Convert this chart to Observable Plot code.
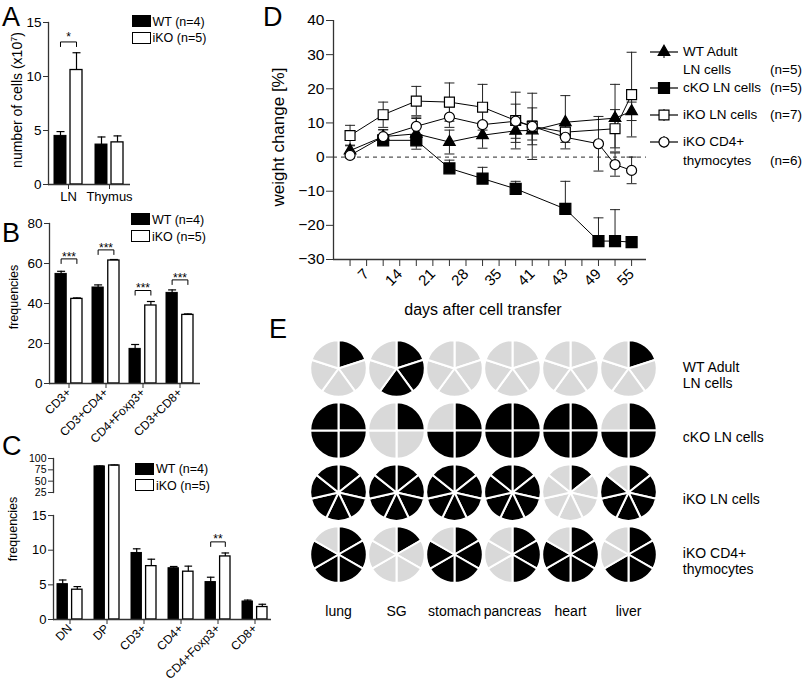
<!DOCTYPE html>
<html><head><meta charset="utf-8">
<script src="https://cdn.jsdelivr.net/npm/d3@7"></script>
<script src="https://cdn.jsdelivr.net/npm/@observablehq/plot@0.6"></script>
<style>
body{margin:0;background:#fff;}
#root{position:relative;width:807px;height:687px;overflow:hidden;font-family:"Liberation Sans",Arial,sans-serif;color:#000;}
.abs{position:absolute;}
</style></head><body><div id="root"></div>
<script>
// ---------- DATA ----------
const legendLabels = ["WT (n=4)", "iKO (n=5)"];

// Panel A
const aCategories = ["LN", "Thymus"];
const aWT = [4.5, 3.7];
const aWTerr = [0.4, 0.7];
const aKO = [10.6, 3.9];
const aKOerr = [1.6, 0.6];
const aYTicks = [0, 5, 10, 15];
const aSigCats = ["LN"];
const aSigY = [13.2];
const aSigLabels = ["*"];

// Panel B
const bCategories = ["CD3+", "CD3+CD4+", "CD4+Foxp3+", "CD3+CD8+"];
const bWT = [54.8, 48, 17.3, 45.3];
const bWTerr = [1.3, 1.3, 2.2, 1.5];
const bKO = [42.3, 61.5, 39, 34.3];
const bKOerr = [0.5, 0.5, 2.0, 0.5];
const bYTicks = [0, 20, 40, 60, 80];
const bSigCats = ["CD3+", "CD3+CD4+", "CD4+Foxp3+", "CD3+CD8+"];
const bSigY = [62.3, 66.8, 46.5, 51.8];
const bSigLabels = ["***", "***", "***", "***"];

// Panel C (broken axis: lower 0–15, upper 25–100)
const cCategories = ["DN", "DP", "CD3+", "CD4+", "CD4+Foxp3+", "CD8+"];
const cWT = [5.1, 82.5, 9.6, 7.4, 5.4, 2.6];
const cWTerr = [0.6, 1, 0.6, 0.25, 0.7, 0.2];
const cKO = [4.3, 84.6, 7.7, 6.9, 9.1, 1.8];
const cKOerr = [0.45, 1, 1.0, 0.8, 0.5, 0.4];
const cLowerTicks = [0, 5, 10, 15];
const cUpperTicks = [25, 50, 75, 100];
const cSigCats = ["CD4+Foxp3+"];
const cSigY = [11.2];
const cSigLabels = ["**"];

// Panel D (x = slot on the categorical day axis)
const dSeriesNames = ["WT Adult LN cells", "cKO LN cells", "iKO LN cells", "iKO CD4+ thymocytes"];
const dSlots = [0, 2, 4, 6, 8, 10, 11, 13, 15, 16, 17];
const dWT     = [1.9, 6.0, 6.8, 4.4, 6.4, 7.7, 7.8, 10.2, null, 11.4, 13.4];
const dWTerr  = [1.6, 2.0, 4.5, 3.5, 3.8, 3.4, 2.8, 7.8, null, 9.9, 2.7];
const dCKO    = [null, 4.9, 4.9, -3.3, -6.3, -9.3, null, -15.2, -24.6, -24.6, -24.9];
const dCKOerr = [null, 1.2, 1.5, 2.4, 3.3, 2.2, null, 8.1, 6.8, 9.2, 0.4];
const dIKO    = [6.3, 12.4, 16.4, 16.1, 14.6, 10.7, 9.0, 7.3, null, 8.3, 18.3];
const dIKOerr = [3.0, 3.7, 4.3, 5.6, 6.7, 8.3, 9.7, 1.5, null, 5.6, 12.4];
const dTHY    = [0.5, 6.0, 9.0, 11.7, 9.5, 10.5, 9.0, 5.8, 3.9, -2.2, -3.9];
const dTHYerr = [0.8, 2.0, 2.7, 3.0, 4.0, 5.0, 5.4, 1.5, 8.0, 3.4, 3.9];
const dMinorTicks = [0, 1, 2, 3, 4, 5, 6, 7, 8, 9, 10, 11, 12, 13, 14, 15, 16, 17];
const dTickPos = [1, 3, 5, 7, 9, 11, 13, 15, 17];
const dTickLabels = ["7", "14", "21", "28", "35", "41", "43", "49", "55"];
const dYTicks = [-30, -20, -10, 0, 10, 20, 30, 40];
const dLegendN = ["(n=5)", "(n=5)", "(n=7)", "(n=6)"];

// Panel E
const organs = ["lung", "SG", "stomach", "pancreas", "heart", "liver"];
const pieGroups = ["WT Adult\nLN cells", "cKO LN cells", "iKO LN cells", "iKO CD4+\nthymocytes"];
const pieMice = [5, 4, 7, 6];
const pieAffected = [
  [1, 3, 0, 0, 0, 1],
  [4, 1, 3, 4, 4, 3],
  [7, 7, 7, 7, 1, 6],
  [5, 1, 5, 3, 5, 4]
];

// ---------- HELPERS ----------
const AX = "#333";
const FONT = "Liberation Sans, Arial, sans-serif";
const baseStyle = {fontFamily: FONT, background: "transparent", overflow: "visible", color: "#000", maxWidth: "none"};
const root = document.getElementById("root");
function place(el, left, top) {
  const d = document.createElement("div");
  d.className = "abs"; d.style.left = left + "px"; d.style.top = top + "px";
  d.appendChild(el); root.appendChild(d);
}
function text(str, left, top, size, extra = "") {
  const d = document.createElement("div");
  d.className = "abs";
  d.style.cssText = `left:${left}px;top:${top}px;font-size:${size}px;line-height:1;white-space:nowrap;${extra}`;
  d.innerHTML = str; root.appendChild(d); return d;
}
function vlabel(str, cx, cy, size) {
  return text(str, cx, cy, size, "transform:translate(-50%,-50%) rotate(-90deg);");
}
const hLine = (h) => ({draw(ctx) { ctx.moveTo(-h, 0); ctx.lineTo(h, 0); }});
const bracketSym = (h, d) => ({draw(ctx) { ctx.moveTo(-h, d); ctx.lineTo(-h, 0); ctx.lineTo(h, 0); ctx.lineTo(h, d); }});
const wedgeSymbol = (n, i) => ({draw(ctx, size) {
  const r = Math.sqrt(size / Math.PI);
  const a0 = -Math.PI / 2 + i * 2 * Math.PI / n, a1 = a0 + 2 * Math.PI / n;
  ctx.moveTo(0, 0); ctx.arc(0, 0, r, a0, a1); ctx.closePath();
}});

function barPanel(o) {
  const n = o.cats.length;
  const rangeW = o.width - o.mL - o.mR;
  const step = rangeW / (n - o.pi + 2 * o.po);
  const bw = step * (1 - o.pi);
  const bar = (bw - o.gap) / 2;
  const off = (bar + o.gap) / 2;
  const clip = !!o.clip;
  const wt = o.cats.map((cat, i) => ({cat, v: o.wt[i], e: o.wtErr[i]}));
  const ko = o.cats.map((cat, i) => ({cat, v: o.ko[i], e: o.koErr[i]}));
  const sig = (o.sigCats || []).map((cat, i) => ({cat, y: o.sigY[i], label: o.sigLabels[i]}));
  const cap = hLine(Math.min(4, bar * 0.36));
  const marks = [
    Plot.barY(wt, {x: "cat", y1: 0, y2: "v", fill: "black", stroke: "black", strokeWidth: 1, insetRight: bar + o.gap, clip}),
    Plot.barY(ko, {x: "cat", y1: 0, y2: "v", fill: "white", stroke: "black", strokeWidth: 1.3, insetLeft: bar + o.gap, clip}),
    Plot.ruleX(wt, {x: "cat", y1: "v", y2: d => d.v + d.e, dx: -off, stroke: "black", strokeWidth: 1.2, clip}),
    Plot.ruleX(ko, {x: "cat", y1: "v", y2: d => d.v + d.e, dx: off, stroke: "black", strokeWidth: 1.2, clip}),
    Plot.dot(wt, {x: "cat", y: d => d.v + d.e, dx: -off, symbol: cap, fill: "none", stroke: "black", strokeWidth: 1.2, clip}),
    Plot.dot(ko, {x: "cat", y: d => d.v + d.e, dx: off, symbol: cap, fill: "none", stroke: "black", strokeWidth: 1.2, clip}),
    Plot.dot(sig, {x: "cat", y: "y", symbol: bracketSym(off, 5), fill: "none", stroke: "black", strokeWidth: 1}),
    Plot.text(sig, {x: "cat", y: "y", text: "label", dy: o.sigDy, fontSize: 12, lineAnchor: "middle"}),
    ...(o.zeroLine === false ? [] : [Plot.ruleY([0], {stroke: AX, strokeWidth: 1.3})]),
    ...o.yLines,
    Plot.axisY({ticks: o.yTicks, tickSize: 5, tickPadding: 2, fontSize: o.yFont, label: null, stroke: AX}),
    ...(o.showX === false ? [] : [Plot.axisX({tickSize: 5, tickPadding: o.xPad, tickRotate: o.rotate, fontSize: o.xFont, label: null, stroke: AX})])
  ];
  return Plot.plot({
    width: o.width, height: o.height,
    marginLeft: o.mL, marginRight: o.mR, marginTop: o.mT, marginBottom: o.mB,
    x: {domain: o.cats, paddingInner: o.pi, paddingOuter: o.po, align: 0.5, axis: o.showX === false ? null : undefined},
    y: {domain: o.yDomain}, style: baseStyle, marks
  });
}
function barLegend(left, top1, top2) {
  [[top1, "black"], [top2, "white"]].forEach(([t, fill], i) => {
    const sw = document.createElement("div");
    sw.className = "abs";
    sw.style.cssText = `left:${left}px;top:${t}px;width:19px;height:12px;background:${fill};border:1.3px solid #000;box-sizing:border-box;`;
    root.appendChild(sw);
    text(legendLabels[i], left + 21, t + 6.5, 12.5, "transform:translateY(-50%);");
  });
}

// ---------- PANEL A ----------
place(barPanel({
  cats: aCategories, wt: aWT, wtErr: aWTerr, ko: aKO, koErr: aKOerr,
  sigCats: aSigCats, sigY: aSigY, sigLabels: aSigLabels, sigDy: -5,
  width: 240, height: 205, mL: 48, mR: 110, mT: 22, mB: 21,
  pi: 0.317, po: 0.158, gap: 4, yDomain: [0, 15], yTicks: aYTicks,
  yLines: [Plot.frame({anchor: "left", stroke: AX, strokeWidth: 1.3})],
  rotate: 0, xFont: 13, yFont: 13.5, xPad: 2
}), 0, 0);

// ---------- PANEL B ----------
place(barPanel({
  cats: bCategories, wt: bWT, wtErr: bWTerr, ko: bKO, koErr: bKOerr,
  sigCats: bSigCats, sigY: bSigY, sigLabels: bSigLabels, sigDy: -2,
  width: 240, height: 245, mL: 49, mR: 40, mT: 28, mB: 57,
  pi: 0.27, po: 0.175, gap: 4.5, yDomain: [0, 80], yTicks: bYTicks,
  yLines: [Plot.frame({anchor: "left", stroke: AX, strokeWidth: 1.3})],
  rotate: -45, xFont: 12, yFont: 13.5, xPad: 2
}), 0, 195);

// ---------- PANEL C (two stacked plots sharing the x layout) ----------
const cCommon = {
  cats: cCategories, wt: cWT, wtErr: cWTerr, ko: cKO, koErr: cKOerr,
  width: 300, height: 247, mL: 53, mR: 29, pi: 0.32, po: 0.1, gap: 4,
  rotate: -45, xFont: 12, yFont: 13, xPad: 2, clip: true
};
// lower segment: 0..15 drawn at 6.93 px/unit, frame extends through the break
place(barPanel({...cCommon,
  sigCats: cSigCats, sigY: cSigY, sigLabels: cSigLabels, sigDy: -3,
  mT: 52, mB: 68, yDomain: [0, 127 / 6.93], yTicks: cLowerTicks,
  yLines: [Plot.frame({anchor: "left", stroke: AX, strokeWidth: 1.3, insetTop: 23})]
}), 0, 440);
// upper segment: 25..100
place(barPanel({...cCommon,
  mT: 18, mB: 195, yDomain: [25, 100], yTicks: cUpperTicks, yFont: 10.5,
  zeroLine: false, showX: false,
  yLines: [Plot.frame({anchor: "left", stroke: AX, strokeWidth: 1.3})]
}), 0, 440);

// ---------- PANEL D ----------
const dValues = [dWT, dCKO, dIKO, dTHY];
const dErrs = [dWTerr, dCKOerr, dIKOerr, dTHYerr];
const dBoth = [true, false, true, true];
const dRows = dSeriesNames.flatMap((s, si) => dSlots.map((k, i) => ({
  series: s, k, y: dValues[si][i], e: dErrs[si][i], both: dBoth[si]
})).filter(d => d.y != null));
const dStyles = [
  {symbol: "triangle", fill: "black", r: 4.3},
  {symbol: "square", fill: "black", r: 6.2},
  {symbol: "square", fill: "white", r: 5.6},
  {symbol: "circle", fill: "white", r: 5.0}
];
const dCap = hLine(5);
place(Plot.plot({
  width: 420, height: 330, marginLeft: 93, marginRight: 14, marginTop: 20, marginBottom: 71,
  x: {domain: [-1, 17.9]}, y: {domain: [-30, 40]}, style: baseStyle,
  marks: [
    Plot.ruleY([0], {stroke: "#555", strokeDasharray: "4,4", strokeWidth: 1.2}),
    Plot.ruleX(dRows, {x: "k", y1: d => d.both ? d.y - d.e : d.y, y2: d => d.y + d.e, stroke: "#222", strokeWidth: 1}),
    Plot.dot(dRows, {x: "k", y: d => d.y + d.e, symbol: dCap, fill: "none", stroke: "#222", strokeWidth: 1}),
    Plot.dot(dRows.filter(d => d.both), {x: "k", y: d => d.y - d.e, symbol: dCap, fill: "none", stroke: "#222", strokeWidth: 1}),
    Plot.line(dRows, {x: "k", y: "y", z: "series", stroke: "black", strokeWidth: 1}),
    ...dSeriesNames.map((s, si) => Plot.dot(dRows.filter(d => d.series === s), {
      x: "k", y: "y", symbol: dStyles[si].symbol, r: dStyles[si].r,
      fill: dStyles[si].fill, stroke: "black", strokeWidth: 1.2
    })),
    Plot.ruleX([-1], {stroke: AX, strokeWidth: 1.3}),
    Plot.ruleY([-30], {stroke: AX, strokeWidth: 1.3}),
    Plot.axisY({ticks: dYTicks, tickSize: 7, tickPadding: 2, fontSize: 15.5, label: null, stroke: AX}),
    Plot.axisX({ticks: dMinorTicks, tickSize: 7, tickFormat: () => "", label: null, stroke: AX}),
    Plot.axisX({ticks: dTickPos, tickSize: 0, tickPadding: 12, tickRotate: -45,
      tickFormat: d => dTickLabels[dTickPos.indexOf(d)], fontSize: 15, label: null})
  ]
}), 240, 0);

// D legend
(function () {
  const ys = [52, 88, 115, 142];
  const ns = "http://www.w3.org/2000/svg";
  const svg = document.createElementNS(ns, "svg");
  svg.setAttribute("width", 40); svg.setAttribute("height", 130);
  const ox = 645, oy = 30;
  ys.forEach((y, si) => {
    const cy = y - oy, cx = 664 - ox;
    const l = document.createElementNS(ns, "line");
    l.setAttribute("x1", 650 - ox); l.setAttribute("x2", 678 - ox); l.setAttribute("y1", cy); l.setAttribute("y2", cy);
    l.setAttribute("stroke", "black"); l.setAttribute("stroke-width", 1.2); svg.appendChild(l);
    const v = document.createElementNS(ns, "line");
    v.setAttribute("x1", cx); v.setAttribute("x2", cx); v.setAttribute("y1", cy - 6); v.setAttribute("y2", cy + 6);
    v.setAttribute("stroke", "black"); v.setAttribute("stroke-width", 1); svg.appendChild(v);
    const st = dStyles[si];
    const p = document.createElementNS(ns, "path");
    p.setAttribute("d", d3.symbol(st.symbol === "triangle" ? d3.symbolTriangle : st.symbol === "square" ? d3.symbolSquare : d3.symbolCircle, st.r * st.r * Math.PI)());
    p.setAttribute("transform", `translate(${cx},${cy})`);
    p.setAttribute("fill", st.fill); p.setAttribute("stroke", "black"); p.setAttribute("stroke-width", 1.2);
    svg.appendChild(p);
  });
  place(svg, ox, oy);
  const T = "transform:translateY(-50%);";
  text("WT Adult", 683, 52, 13.5, T);
  text("LN cells", 683, 70, 13.5, T);
  text(dLegendN[0], 770, 70, 13.5, T);
  text("cKO LN cells", 683, 88, 13.5, T);
  text(dLegendN[1], 770, 88, 13.5, T);
  text("iKO LN cells", 683, 115, 13.5, T);
  text(dLegendN[2], 770, 115, 13.5, T);
  text("iKO CD4+", 683, 142, 13.5, T);
  text("thymocytes", 683, 161, 13.5, T);
  text(dLegendN[3], 770, 161, 13.5, T);
})();

// ---------- PANEL E ----------
const wedges = [];
pieGroups.forEach((g, gi) => organs.forEach((org, oi) => {
  const n = pieMice[gi];
  for (let i = 0; i < n; i++) wedges.push({organ: org, group: g, key: n + "-" + i, black: i < pieAffected[gi][oi]});
}));
const wedgeKeys = [...new Set(wedges.map(d => d.key))];
const wedgeSyms = wedgeKeys.map(k => { const [n, i] = k.split("-").map(Number); return wedgeSymbol(n, i); });
place(Plot.plot({
  width: 507, height: 300, marginLeft: 36.7, marginRight: 177.7, marginTop: 38, marginBottom: 75.7,
  x: {type: "point", domain: organs, padding: 0},
  y: {type: "point", domain: pieGroups, padding: 0},
  symbol: {domain: wedgeKeys, range: wedgeSyms},
  style: baseStyle,
  marks: [
    Plot.dot(wedges, {x: "organ", y: "group", symbol: "key", r: 28.3,
      fill: d => d.black ? "#000000" : "#d9d9d9", stroke: "white", strokeWidth: 2}),
    Plot.axisX({tickSize: 0, tickPadding: 51, fontSize: 14, label: null}),
    Plot.axisY({anchor: "right", tickSize: 0, tickPadding: 53, fontSize: 14, label: null, dy: 6, lineHeight: 1.15})
  ]
}), 300, 330);

// ---------- LETTERS & AXIS TITLES ----------
text("A", 2, 4, 27); text("B", 2, 220, 27); text("C", 2, 433, 27);
text("D", 263, 4, 27); text("E", 269, 316, 27);
vlabel("number of cells (x10<sup style='font-size:9px'>7</sup>)", 16.5, 100, 14);
vlabel("frequencies", 13.5, 297, 12.5);
vlabel("frequencies", 13, 529, 12.5);
vlabel("weight change [%]", 278, 137, 17);
text("days after cell transfer", 483, 310, 16, "transform:translate(-50%,-50%);");

barLegend(131.5, 15, 31.5);
barLegend(131, 213, 230);
barLegend(135, 462.5, 479);
</script></body></html>
